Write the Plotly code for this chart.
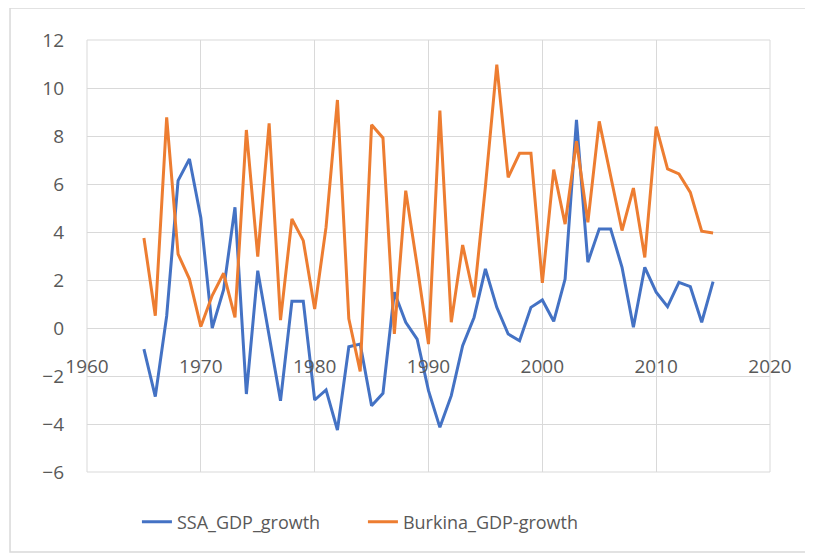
import plotly.graph_objects as go

years = list(range(1965, 2016))

ssa_gdp_growth = [
    -0.88, -2.86, 0.5, 6.14, 7.04, 4.6, 0.0, 1.6, 5.03, -2.75,
    2.39, -0.35, -3.03, 1.11, 1.11, -3.0, -2.58, -4.25, -0.78, -0.67,
    -3.24, -2.72, 1.49, 0.24, -0.46, -2.61, -4.14, -2.82, -0.74, 0.44,
    2.46, 0.86, -0.25, -0.53, 0.86, 1.17, 0.28, 2.04, 8.67, 2.74,
    4.13, 4.13, 2.53, 0.03, 2.53, 1.49, 0.89, 1.9, 1.72, 0.24,
    1.93,
]

burkina_gdp_growth = [
    3.75, 0.51, 8.78, 3.08, 2.04, 0.06, 1.35, 2.28, 0.44, 8.25,
    2.97, 8.53, 0.33, 4.54, 3.64, 0.79, 4.2, 9.5, 0.38, -1.81,
    8.47, 7.92, -0.25, 5.72, 2.6, -0.67, 9.06, 0.24, 3.46, 1.28,
    5.9, 10.97, 6.28, 7.28, 7.28, 1.88, 6.6, 4.33, 7.78, 4.4,
    8.61, 6.4, 4.06, 5.83, 2.94, 8.39, 6.63, 6.42, 5.65, 4.03,
    3.96,
]

x_ticks = [1960, 1970, 1980, 1990, 2000, 2010, 2020]
y_ticks = [-6, -4, -2, 0, 2, 4, 6, 8, 10, 12]

grid = "#d9d9d9"
txt = "#595959"

fig = go.Figure()
fig.add_trace(go.Scatter(x=years, y=ssa_gdp_growth, mode="lines", name="SSA_GDP_growth",
                         line=dict(color="#4472C4", width=3)))
fig.add_trace(go.Scatter(x=years, y=burkina_gdp_growth, mode="lines", name="Burkina_GDP-growth",
                         line=dict(color="#ED7D31", width=3)))

fig.update_layout(
    width=813, height=555,
    margin=dict(l=79, r=51, t=32, b=91),
    paper_bgcolor="white", plot_bgcolor="white",
    font=dict(family="Open Sans", color=txt),
    showlegend=True,
    legend=dict(orientation="h", x=0.404, xanchor="center", y=-0.116, yanchor="middle",
                entrywidth=181, entrywidthmode="pixels",
                font=dict(size=18, color=txt), bgcolor="rgba(0,0,0,0)"),
    xaxis=dict(range=[1960, 2020], tickvals=x_ticks, ticktext=[str(v) for v in x_ticks],
               showgrid=True, gridcolor=grid, gridwidth=1, zeroline=False, showline=False,
               anchor="free", position=1/3, ticks="", ticklabelstandoff=25,
               tickfont=dict(size=19, color=txt)),
    yaxis=dict(range=[-6, 12], tickvals=y_ticks, showgrid=True, gridcolor=grid, gridwidth=1,
               zeroline=False, showline=False, ticks="", ticklabelstandoff=22,
               tickfont=dict(size=19, color=txt)),
    shapes=[
        dict(type="rect", xref="paper", yref="paper", x0=0, x1=1, y0=0, y1=1,
             line=dict(color=grid, width=1), layer="below"),
        dict(type="rect", xref="paper", yref="paper", x0=-0.1127, x1=1.0527, y0=-0.185, y1=1.074,
             line=dict(color=grid, width=1.5), layer="below"),
    ],
)

fig.write_html("out.html")
